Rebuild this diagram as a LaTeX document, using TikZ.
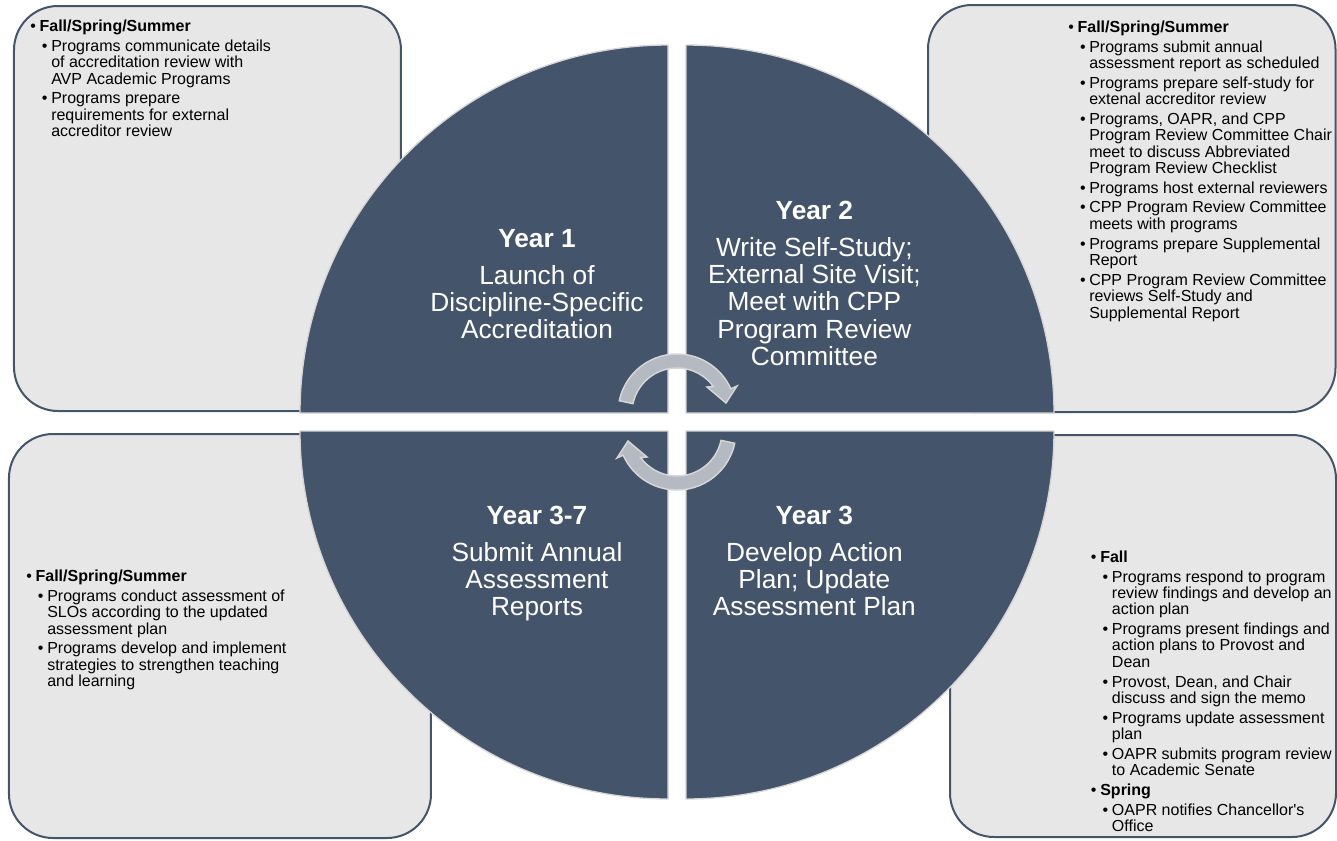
\documentclass[tikz,border=0pt]{standalone}
\usepackage{fontspec}
\setmainfont{Liberation Sans}
\definecolor{cppslate}{HTML}{44546A}
\definecolor{cppbox}{HTML}{E7E7E7}
\definecolor{cppedge}{HTML}{D6D6D6}
\definecolor{cpparrow}{HTML}{B5B9C1}
\newcommand{\itemgap}{2.5pt}
\newcommand{\hdline}[1]{\makebox[7pt][l]{\textbullet}\textbf{#1}}
\newcommand{\subpt}[1]{\hspace*{8.8pt}\makebox[6.95pt][l]{\textbullet}#1}
\newcommand{\subcont}[1]{\hspace*{15.75pt}#1}
\newcommand{\boxtext}[1]{\parbox[t]{240pt}{\fontsize{12}{12.3}\selectfont\raggedright #1}}
\newcommand{\yeartext}[2]{\parbox[t]{200pt}{\fontsize{19.7}{20.5}\selectfont\centering\textbf{#1}\\[7.25pt]#2}}

\begin{document}
\begin{tikzpicture}[x=0.75pt,y=0.75pt,
  infobox/.style={draw=cppslate,fill=cppbox,line width=1.5pt,rounded corners=33pt},
  quad/.style={fill=cppslate,draw=cppedge,line width=1pt},
  cycarrow/.style={fill=cpparrow,draw=cppedge,line width=1.1pt},
  yearlabel/.style={text=white,inner sep=0pt,anchor=base},
  notes/.style={inner sep=0pt,anchor=base west}]
  \useasboundingbox (-677,-418) rectangle (660,422);
  % side panels
  \draw[infobox] (-663,416) rectangle (-276,11);
  \draw[infobox] (251,417) rectangle (658.5,10);
  \draw[infobox] (-668,-12) rectangle (-246,-416);
  \draw[infobox] (273,-13) rectangle (659,-415);
  % four quarters of the cycle
  \draw[quad] (-9,9) -- (-377,9) arc[start angle=180,end angle=90,radius=368] -- cycle;
  \draw[quad] (9,9) -- (9,377) arc[start angle=90,end angle=0,radius=368] -- cycle;
  \draw[quad] (-9,-9) -- (-9,-377) arc[start angle=270,end angle=180,radius=368] -- cycle;
  \draw[quad] (9,-9) -- (377,-9) arc[start angle=0,end angle=-90,radius=368] -- cycle;
  % turning arrows
  \begin{scope}[shift={(0,9)}]
    \draw[cycarrow] (168:59) arc[start angle=168,end angle=24.2,radius=59] -- (60,27) -- (49,10) -- (30,26) -- (36:45) arc[start angle=36,end angle=168,radius=45] -- cycle;
  \end{scope}
  \begin{scope}[rotate=180,shift={(0,9)}]
    \draw[cycarrow] (168:59) arc[start angle=168,end angle=24.2,radius=59] -- (60,27) -- (49,10) -- (30,26) -- (36:45) arc[start angle=36,end angle=168,radius=45] -- cycle;
  \end{scope}
  % year labels
  \node[yearlabel] (y1) at (-140,175) {\yeartext{Year 1}{Launch of\\Discipline-Specific\\Accreditation}};
  \node[yearlabel] (y2) at (137.4,202.7) {\yeartext{Year 2}{Write Self-Study;\\External Site Visit;\\Meet with CPP\\Program Review\\Committee}};
  \node[yearlabel] (y37) at (-140,-102) {\yeartext{Year 3-7}{Submit Annual\\Assessment\\Reports}};
  \node[yearlabel] (y3) at (137.4,-102) {\yeartext{Year 3}{Develop Action\\Plan; Update\\Assessment Plan}};
  % panel notes
  \node[notes] (n1) at (-647,390.3) {\boxtext{%
    \hdline{Fall/Spring/Summer}\\[\itemgap]
    \subpt{Programs communicate details}\\
    \subcont{of accreditation review with}\\
    \subcont{AVP Academic Programs}\\[\itemgap]
    \subpt{Programs prepare}\\
    \subcont{requirements for external}\\
    \subcont{accreditor review}}};
  \node[notes] (n2) at (391,389.7) {\boxtext{%
    \hdline{Fall/Spring/Summer}\\[\itemgap]
    \subpt{Programs submit annual}\\
    \subcont{assessment report as scheduled}\\[\itemgap]
    \subpt{Programs prepare self-study for}\\
    \subcont{extenal accreditor review}\\[\itemgap]
    \subpt{Programs, OAPR, and CPP}\\
    \subcont{Program Review Committee Chair}\\
    \subcont{meet to discuss Abbreviated}\\
    \subcont{Program Review Checklist}\\[\itemgap]
    \subpt{Programs host external reviewers}\\[\itemgap]
    \subpt{CPP Program Review Committee}\\
    \subcont{meets with programs}\\[\itemgap]
    \subpt{Programs prepare Supplemental}\\
    \subcont{Report}\\[\itemgap]
    \subpt{CPP Program Review Committee}\\
    \subcont{reviews Self-Study and}\\
    \subcont{Supplemental Report}}};
  \node[notes] (n37) at (-651,-159.7) {\boxtext{%
    \hdline{Fall/Spring/Summer}\\[\itemgap]
    \subpt{Programs conduct assessment of}\\
    \subcont{SLOs according to the updated}\\
    \subcont{assessment plan}\\[\itemgap]
    \subpt{Programs develop and implement}\\
    \subcont{strategies to strengthen teaching}\\
    \subcont{and learning}}};
  \node[notes] (n3) at (413.7,-140.3) {\boxtext{%
    \hdline{Fall}\\[\itemgap]
    \subpt{Programs respond to program}\\
    \subcont{review findings and develop an}\\
    \subcont{action plan}\\[\itemgap]
    \subpt{Programs present findings and}\\
    \subcont{action plans to Provost and}\\
    \subcont{Dean}\\[\itemgap]
    \subpt{Provost, Dean, and Chair}\\
    \subcont{discuss and sign the memo}\\[\itemgap]
    \subpt{Programs update assessment}\\
    \subcont{plan}\\[\itemgap]
    \subpt{OAPR submits program review}\\
    \subcont{to Academic Senate}\\[\itemgap]
    \hdline{Spring}\\[\itemgap]
    \subpt{OAPR notifies Chancellor\textquotesingle s}\\
    \subcont{Office}}};
\end{tikzpicture}
\end{document}
